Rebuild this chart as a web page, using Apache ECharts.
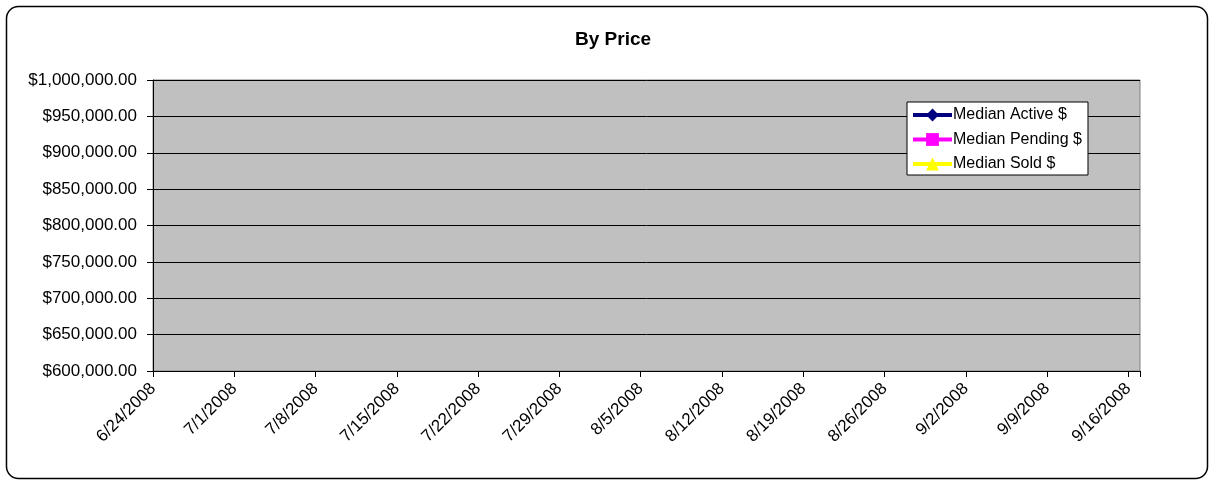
<!DOCTYPE html>
<html><head><meta charset="utf-8">
<script src="https://cdn.jsdelivr.net/npm/echarts@6/dist/echarts.min.js"></script>
<style>html,body{margin:0;padding:0;background:#fff}#c{width:1214px;height:485px}</style>
</head><body><div id="c"></div>
<script>
// Week tick dates (x axis), days from 6/24/2008
const tickLabels = ['6/24/2008','7/1/2008','7/8/2008','7/15/2008','7/22/2008','7/29/2008','8/5/2008','8/12/2008','8/19/2008','8/26/2008','9/2/2008','9/9/2008','9/16/2008'];
const seriesNames = ['Median Active $','Median Pending $','Median Sold $'];
// No data points visible in the reference chart
const medianActive = [];
const medianPending = [];
const medianSold = [];
const yMin = 600000, yMax = 1000000, yStep = 50000;

const fmtMoney = v => '$' + Number(v).toLocaleString('en-US',{minimumFractionDigits:2,maximumFractionDigits:2});
const font = 'Liberation Sans, Arial, sans-serif';
const chart = echarts.init(document.getElementById('c'));
chart.setOption({
  animation:false,
  backgroundColor:'#fff',
  title:{text:'By Price',left:575,top:30,padding:0,textStyle:{fontFamily:font,fontSize:19,fontWeight:'bold',color:'#000'}},
  graphic:[{type:'rect',shape:{x:6.5,y:6.5,width:1201,height:472,r:12},style:{fill:'none',stroke:'#000',lineWidth:1.5},z:-1}],
  legend:{
    orient:'vertical',left:907,top:102,width:184,
    backgroundColor:'#fff',borderColor:'#000',borderWidth:1,
    padding:[5,6,3,4],itemGap:8.5,itemWidth:39,itemHeight:16,
    lineStyle:{width:4},
    textStyle:{fontFamily:font,fontSize:16,color:'#000',padding:[0,0,0,-4]},
    data:seriesNames
  },
  grid:{left:153,right:74,top:80,bottom:114,show:true,backgroundColor:'#C0C0C0',borderColor:'#808080',borderWidth:1},
  xAxis:{
    type:'value',min:0,max:85,interval:7,
    axisLine:{show:true,lineStyle:{color:'#000',width:1}},
    axisTick:{show:true,length:6,inside:false,lineStyle:{color:'#000'}},
    splitLine:{show:false},
    axisLabel:{rotate:45,margin:15,fontFamily:font,fontSize:17,color:'#000',
      formatter:v=>{const i=Math.round(v/7);return (v%7===0&&tickLabels[i])?tickLabels[i]:'';}}
  },
  yAxis:{
    type:'value',min:yMin,max:yMax,interval:yStep,
    axisLine:{show:true,lineStyle:{color:'#000',width:1}},
    axisTick:{show:true,length:6,lineStyle:{color:'#000'}},
    splitLine:{show:true,lineStyle:{color:'#000',width:1}},
    axisLabel:{margin:16,fontFamily:font,fontSize:17,color:'#000',formatter:fmtMoney}
  },
  series:[
    {name:seriesNames[0],type:'line',data:medianActive,symbol:'diamond',symbolSize:10,color:'#000080',lineStyle:{width:4}},
    {name:seriesNames[1],type:'line',data:medianPending,symbol:'rect',symbolSize:10,color:'#FF00FF',lineStyle:{width:4}},
    {name:seriesNames[2],type:'line',data:medianSold,symbol:'triangle',symbolSize:10,color:'#FFFF00',lineStyle:{width:4}}
  ]
});
</script></body></html>
